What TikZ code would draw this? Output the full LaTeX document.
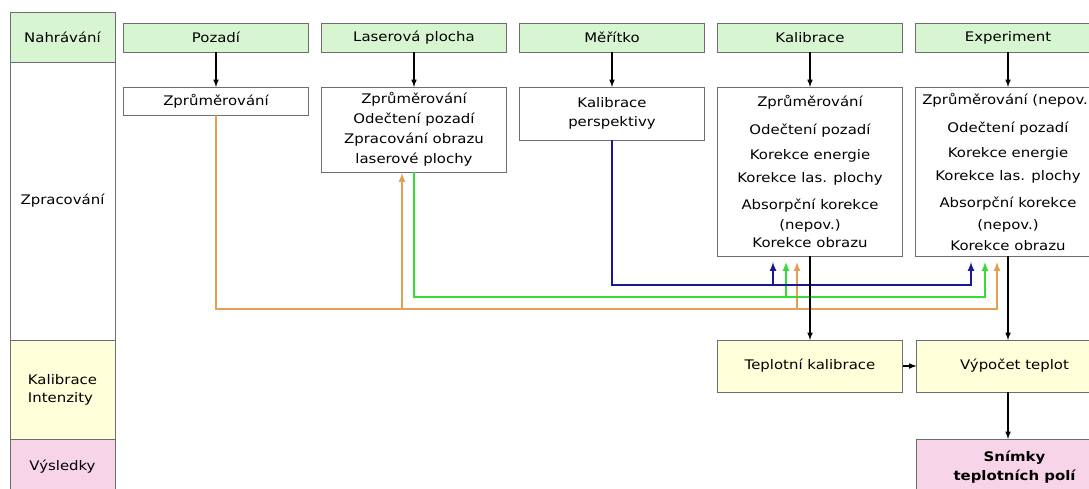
\documentclass[tikz,border=0pt]{standalone}
\usepackage{fontspec}
\setmainfont{DejaVu Sans}[FakeStretch=1.13]
\usetikzlibrary{positioning}

\definecolor{nahrgreen}{RGB}{214,245,208}
\definecolor{kalyellow}{RGB}{255,255,218}
\definecolor{vyspink}{RGB}{247,212,232}
\definecolor{lineorange}{RGB}{226,160,82}
\definecolor{linegreen}{RGB}{55,220,55}
\definecolor{lineblue}{RGB}{25,25,150}
\definecolor{boxgray}{RGB}{110,110,110}

\tikzset{
	stage/.style={draw=boxgray, line width=0.9pt, minimum width=185pt,
		inner sep=2pt, outer sep=0pt, align=center,
		font=\fontsize{13.2}{18}\selectfont},
	phase/.style={stage, minimum width=105pt},
	arr/.style={-latex, line width=1.5pt},
	bus/.style={-latex, line width=2pt},
}

\begin{document}
\begin{tikzpicture}[x=1pt,y=-1pt]
\useasboundingbox (0,0) rectangle (1089,488);
\clip (0,0) rectangle (1089,488);

% Phases
\node [phase,
	fill=nahrgreen,
	minimum height=50pt
] (nahr) at (62.5,37) {Nahrávání};
\node [phase,
	fill=white,
	minimum height=278pt,
	below = 0pt of nahr
] (zprac) {Zpracování};
\node [phase,
	fill=kalyellow,
	minimum height=99pt,
	align=left,
	below = 0pt of zprac
] (kalint) {Kalibrace\\Intenzity};
\node [phase,
	fill=vyspink,
	minimum height=56pt,
	below = 0pt of kalint
] (vysl) {Výsledky};

% Recordings
\node [stage,
	fill=nahrgreen,
	minimum height=29pt
] (poz) at (216,37.5) {Pozadí};
\node [stage,
	fill=nahrgreen,
	minimum height=29pt,
	right = 13pt of poz
] (laser) {Laserová plocha};
\node [stage,
	fill=nahrgreen,
	minimum height=29pt,
	right = 13pt of laser
] (mer) {Měřítko};
\node [stage,
	fill=nahrgreen,
	minimum height=29pt,
	right = 13pt of mer
] (kal) {Kalibrace};
\node [stage,
	fill=nahrgreen,
	minimum height=29pt,
	right = 13pt of kal
] (exp) {Experiment};

% Processing
\node [stage,
	fill=white,
	minimum height=28pt,
	below = 35pt of poz
] (pozz) {Zprůměrování};
\node [stage,
	fill=white,
	minimum height=85pt,
	below = 35pt of laser
] (laserz) {Zprůměrování\\[2pt]Odečtení pozadí\\[2pt]Zpracování obrazu\\[2pt]laserové plochy};
\node [stage,
	fill=white,
	minimum height=53pt,
	below = 35pt of mer
] (merz) {Kalibrace\\[1pt]perspektivy};
\node [stage,
	fill=white,
	minimum height=169pt,
	below = 35pt of kal
] (kalz) {Zprůměrování\\[10pt]Odečtení pozadí\\[7pt]Korekce energie\\[5pt]Korekce las. plochy\\[9pt]Absorpční korekce\\[2pt](nepov.)\\Korekce obrazu};
\node [stage,
	fill=white,
	minimum height=169pt,
	below = 35pt of exp
] (expz) {Zprůměrování (nepov.)\\[10pt]Odečtení pozadí\\[7pt]Korekce energie\\[5pt]Korekce las. plochy\\[9pt]Absorpční korekce\\[4pt](nepov.)\\[3pt]Korekce obrazu};

% Intensity calibration and results
\node [stage,
	fill=kalyellow,
	minimum height=52pt,
	below = 84pt of kalz
] (tep) {Teplotní kalibrace};
\node [stage,
	fill=kalyellow,
	minimum width=196pt,
	minimum height=52pt,
	right = 14pt of tep
] (vyp) {Výpočet teplot};
\node [stage,
	fill=vyspink,
	minimum width=196pt,
	minimum height=56pt,
	font=\fontsize{13.2}{19}\selectfont\bfseries,
	below = 47pt of vyp
] (sni) {Snímky\\teplotních polí};

% Arrows down
\draw[arr] (poz) -- (pozz);
\draw[arr] (laser) -- (laserz);
\draw[arr] (mer) -- (merz);
\draw[arr] (kal) -- (kalz);
\draw[arr] (exp) -- (expz);

% Correction buses
\coordinate (busblue) at (0,285);
\coordinate (busgreen) at (0,297);
\coordinate (busorange) at (0,309);

\draw[bus, lineorange, shorten >=6pt] (pozz.south) |- ([xshift=-11pt]expz.south |- busorange) -- ([xshift=-11pt]expz.south);
\draw[bus, lineorange, shorten >=6pt] ([xshift=-13pt]kalz.south |- busorange) -- ([xshift=-13pt]kalz.south);
\draw[bus, lineorange, shorten >=1pt] ([xshift=-12pt]laserz.south |- busorange) -- ([xshift=-12pt]laserz.south);

\draw[bus, linegreen, shorten >=6pt] (laserz.south) |- ([xshift=-23pt]expz.south |- busgreen) -- ([xshift=-23pt]expz.south);
\draw[bus, linegreen, shorten >=6pt] ([xshift=-24pt]kalz.south |- busgreen) -- ([xshift=-24pt]kalz.south);

\draw[bus, lineblue, shorten >=6pt] (merz.south) |- ([xshift=-37pt]expz.south |- busblue) -- ([xshift=-37pt]expz.south);
\draw[bus, lineblue, shorten >=6pt] ([xshift=-37pt]kalz.south |- busblue) -- ([xshift=-37pt]kalz.south);

% Temperature
\draw[arr] (kalz.south) -- (tep.north);
\draw[arr] (expz.south) -- (expz.south |- vyp.north);
\draw[arr] (tep.east) -- (vyp.west);
\draw[arr] (vyp.south -| expz.south) -- (expz.south |- sni.north);

\end{tikzpicture}
\end{document}
